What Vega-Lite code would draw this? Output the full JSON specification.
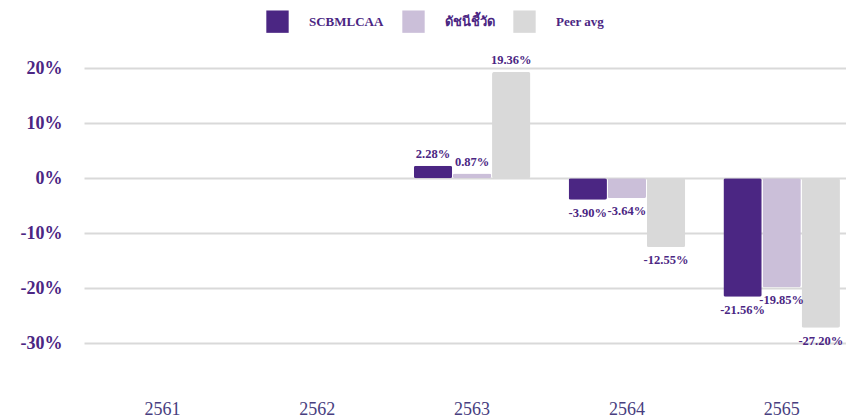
{
  "$schema": "https://vega.github.io/schema/vega-lite/v6.json",
  "width": 846,
  "height": 420,
  "autosize": {"type": "fit", "contains": "padding"},
  "padding": {"left": 20, "top": 41, "right": 0, "bottom": 2},
  "background": "white",
  "data": {
    "values": [
      {"year": "2563", "series": "SCBMLCAA", "value": 0.0228},
      {"year": "2563", "series": "ดัชนีชี้วัด", "value": 0.0087},
      {"year": "2563", "series": "Peer avg", "value": 0.1936},
      {"year": "2564", "series": "SCBMLCAA", "value": -0.039},
      {"year": "2564", "series": "ดัชนีชี้วัด", "value": -0.0364},
      {"year": "2564", "series": "Peer avg", "value": -0.1255},
      {"year": "2565", "series": "SCBMLCAA", "value": -0.2156},
      {"year": "2565", "series": "ดัชนีชี้วัด", "value": -0.1985},
      {"year": "2565", "series": "Peer avg", "value": -0.272}
    ]
  },
  "encoding": {
    "x": {
      "field": "year",
      "type": "nominal",
      "scale": {"domain": ["2561", "2562", "2563", "2564", "2565"], "paddingInner": 0.247, "paddingOuter": 0.085, "align": 0.77},
      "axis": {
        "title": null,
        "labelAngle": 0,
        "domain": false,
        "ticks": false,
        "labelFont": "Liberation Serif",
        "labelFontSize": 18,
        "labelColor": "#483E80",
        "labelPadding": 2
      }
    },
    "xOffset": {
      "field": "series",
      "type": "nominal",
      "scale": {"domain": ["SCBMLCAA", "ดัชนีชี้วัด", "Peer avg"], "paddingInner": 0.02}
    },
    "y": {
      "field": "value",
      "type": "quantitative",
      "scale": {"domain": [-0.4, 0.25], "nice": false},
      "axis": {
        "title": null,
        "values": [-0.3, -0.2, -0.1, 0, 0.1, 0.2],
        "format": ".0%",
        "domain": false,
        "ticks": false,
        "grid": true,
        "gridColor": "#D9D9D9",
        "gridWidth": 2,
        "labelFont": "Liberation Serif",
        "labelFontWeight": "bold",
        "labelFontSize": 18,
        "labelColor": "#4B2683",
        "labelPadding": 22
      }
    }
  },
  "layer": [
    {
      "mark": {"type": "bar", "cornerRadius": 2},
      "encoding": {
        "color": {
          "field": "series",
          "type": "nominal",
          "scale": {"domain": ["SCBMLCAA", "ดัชนีชี้วัด", "Peer avg"], "range": ["#4B2683", "#CBBFD9", "#D9D9D9"]},
          "legend": {
            "title": null,
            "orient": "none",
            "legendX": 182,
            "legendY": -31,
            "direction": "horizontal",
            "symbolType": "square",
            "symbolSize": 500,
            "symbolStrokeWidth": 0,
            "symbolOpacity": 1,
            "labelFont": "Liberation Serif",
            "labelFontWeight": "bold",
            "labelFontSize": 13,
            "labelColor": "#4B2683",
            "labelOffset": 20,
            "columnPadding": 18
          }
        }
      }
    },
    {
      "transform": [{"filter": "datum.value >= 0"}],
      "mark": {"type": "text", "baseline": "bottom", "dy": -5, "font": "Liberation Serif", "fontWeight": "bold", "fontSize": 12.5, "color": "#4B2683"},
      "encoding": {"text": {"field": "value", "type": "quantitative", "format": ".2%"}}
    },
    {
      "transform": [{"filter": "datum.value < 0"}],
      "mark": {"type": "text", "baseline": "top", "dy": 7, "font": "Liberation Serif", "fontWeight": "bold", "fontSize": 12.5, "color": "#4B2683"},
      "encoding": {"text": {"field": "value", "type": "quantitative", "format": ".2%"}}
    }
  ],
  "config": {
    "view": {"stroke": null},
    "locale": {"number": {"decimal": ".", "thousands": ",", "grouping": [3], "currency": ["$", ""], "minus": "-"}}
  }
}
